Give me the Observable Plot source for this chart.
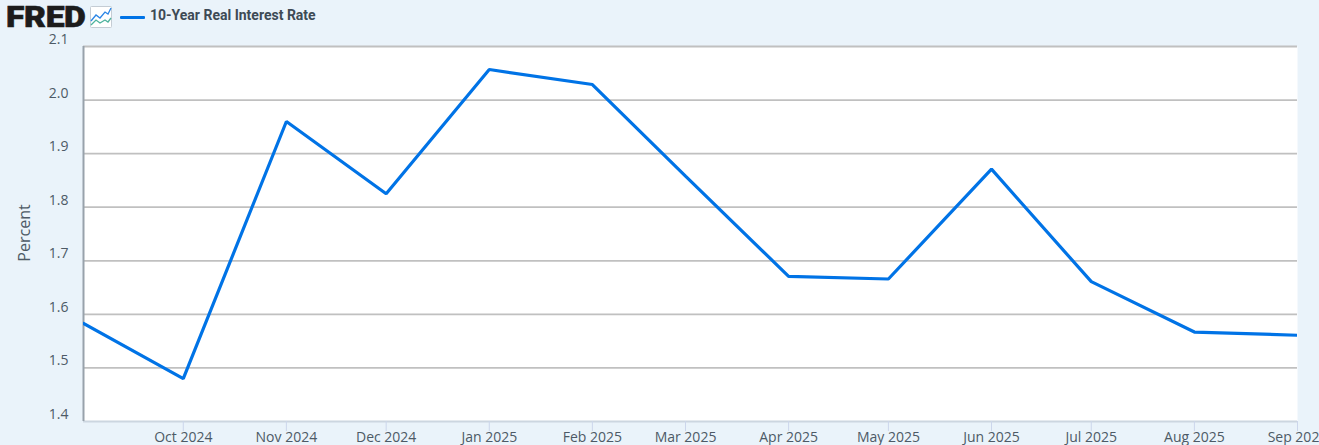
<!DOCTYPE html>
<html>
<head>
<meta charset="utf-8">
<script src="https://cdn.jsdelivr.net/npm/d3@7"></script>
<script src="https://cdn.jsdelivr.net/npm/@observablehq/plot@0.6"></script>
<style>
html,body{margin:0;padding:0;background:#eaf3fa;overflow:hidden;width:1319px;height:445px}
#wrap{position:relative;width:1319px;height:445px}
#head{position:absolute;left:0;top:0;height:30px;width:600px;z-index:2}
#logo{position:absolute;left:6px;top:6px;font:900 29px/22px Roboto,sans-serif;color:#1c1c1c;letter-spacing:-.3px;-webkit-text-stroke:.6px #1c1c1c;transform:scaleX(1.16);transform-origin:left center}
#icon{position:absolute;left:90px;top:6px}
#swatch{position:absolute;left:120px;top:16px;width:25px;height:3px;background:#0073e6;border-radius:1px}
#label{position:absolute;left:150px;top:7px;font:700 14px/17px Roboto,sans-serif;color:#3d4a55}
svg.plot{display:block;position:absolute;left:0;top:0}
</style>
</head>
<body>
<div id="wrap">
<div id="head">
<div id="logo">FRED</div>
<svg id="icon" width="23" height="23" viewBox="0 0 23 23"><rect x=".5" y=".5" width="21" height="21" rx="1" fill="#fff" stroke="#c4ccd4"/><polyline points="1,15 6,9 10,12 15,6 18,8 21,2" fill="none" stroke="#2b86e6" stroke-width="1.3"/><polyline points="1,19 6,14 10,17 15,14 18,16 21,12" fill="none" stroke="#4fb39e" stroke-width="1.3"/></svg>
<div id="swatch"></div>
<div id="label">10-Year Real Interest Rate</div>
</div>
<div id="chart"></div>
</div>
<script>
const seriesName = "10-Year Real Interest Rate";
const dates = ["2024-09-01","2024-10-01","2024-11-01","2024-12-01","2025-01-01","2025-02-01","2025-03-01","2025-04-01","2025-05-01","2025-06-01","2025-07-01","2025-08-01","2025-09-01"];
const values = [1.583,1.480,1.960,1.825,2.057,2.029,1.858,1.671,1.666,1.871,1.661,1.567,1.561];
const yTicks = [1.4,1.5,1.6,1.7,1.8,1.9,2.0,2.1];
const xTicks = dates.slice(1);
const parse = d3.utcParse("%Y-%m-%d");
const rows = dates.map((d,i)=>({date:parse(d),value:values[i]}));
const plot = Plot.plot({
  width:1319,height:445,
  marginTop:46,marginBottom:24,marginLeft:83,marginRight:22,
  style:{background:"transparent",fontFamily:"'Open Sans',sans-serif",fontSize:"14px",overflow:"hidden"},
  x:{type:"utc",domain:[parse(dates[0]),parse(dates[12])],label:null},
  y:{domain:[1.4,2.1],label:null},
  marks:[
    Plot.frame({fill:"#fff",stroke:null}),
    Plot.ruleY(yTicks.slice(1),{stroke:"#c0c0c0",strokeWidth:1.8,strokeOpacity:1}),
    Plot.ruleY([1.4],{stroke:"#ccd6e0",strokeWidth:2}),
    Plot.ruleX([parse(dates[0])],{stroke:"#98a2ab",strokeWidth:2}),
    Plot.axisY({ticks:yTicks,tickSize:0,tickPadding:15,dy:-7,tickFormat:d3.format(".1f"),fill:"#4d5a66",fontSize:14,label:null}),
    Plot.axisX({ticks:xTicks.map(parse),tickSize:10,tickPadding:1,tickFormat:d3.utcFormat("%b %Y"),stroke:"#ccd6eb",fill:"#4d5a66",label:null,fontSize:14}),
    Plot.text(["Percent"],{frameAnchor:"left",textAnchor:"middle",dx:-59,dy:-1,rotate:-90,fill:"#4d5a66",fontSize:16}),
    Plot.line(rows,{x:"date",y:"value",stroke:"#0073e6",strokeWidth:3.2,strokeLinejoin:"miter",curve:"linear",clip:true})
  ]
});
document.getElementById("chart").appendChild(plot);
</script>
</body>
</html>
